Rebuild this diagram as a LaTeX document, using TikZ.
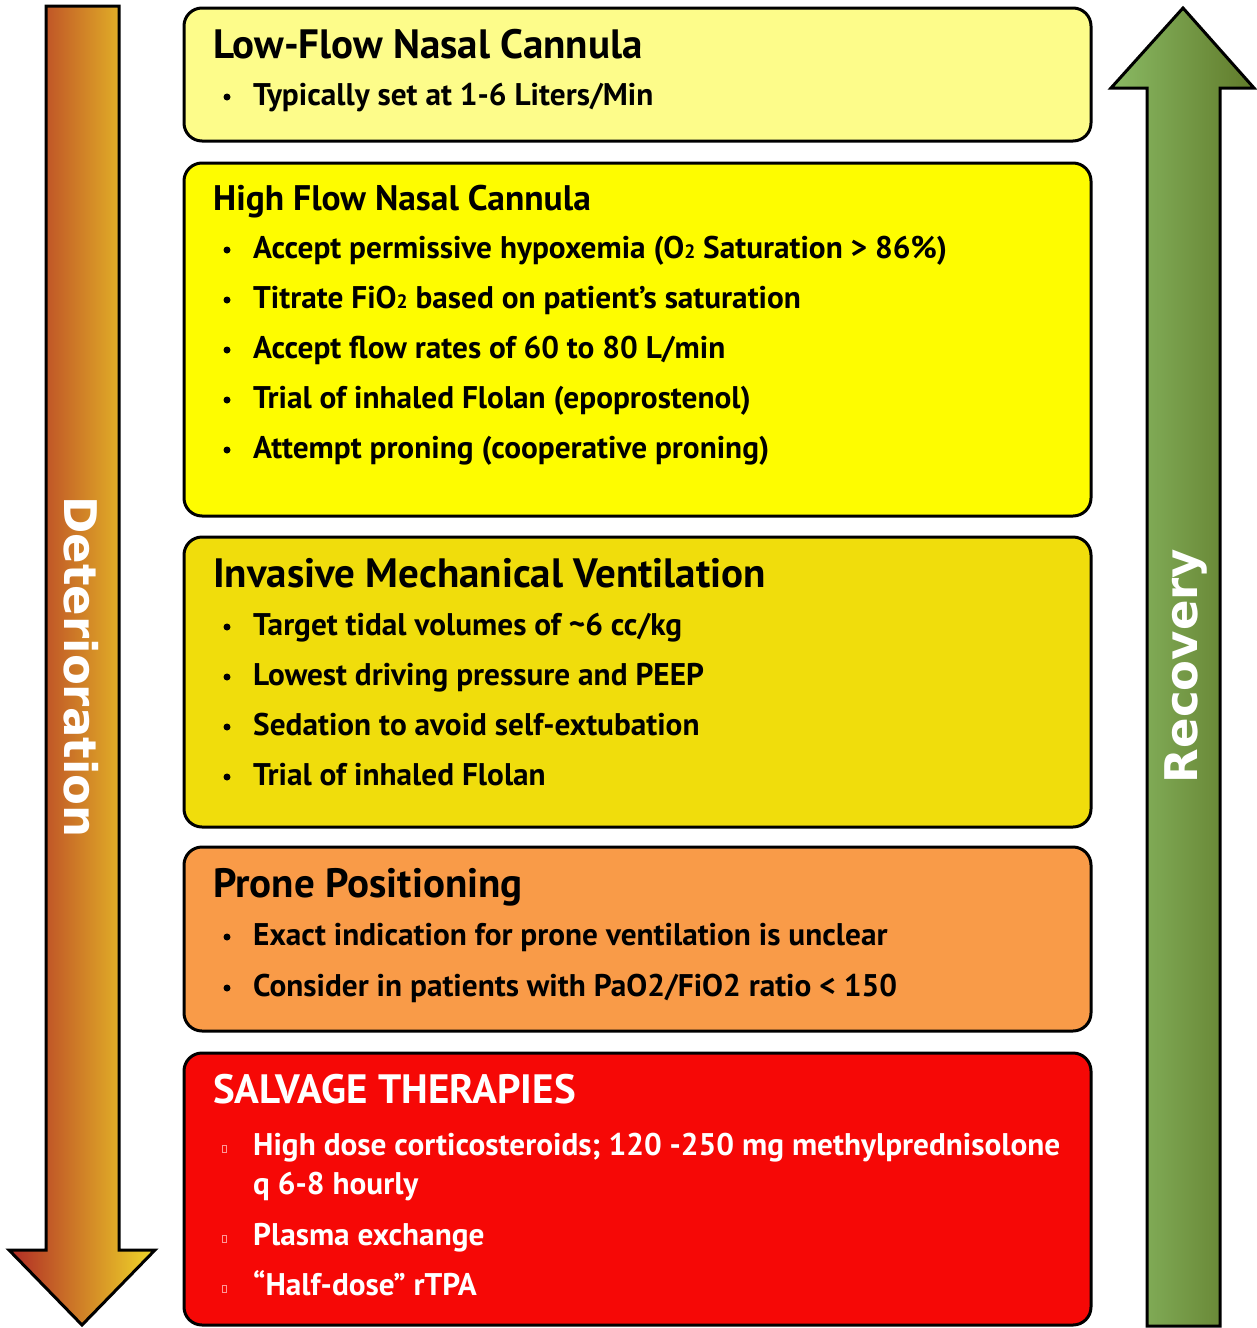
\documentclass[tikz,border=0pt]{standalone}
\usepackage{fontspec}
\setmainfont{PT Sans}
\newfontfamily\arrowlabelfont{DejaVu Sans}
\definecolor{boxA}{RGB}{253,252,138}
\definecolor{boxB}{RGB}{254,252,0}
\definecolor{boxC}{RGB}{240,221,12}
\definecolor{boxD}{RGB}{249,155,72}
\definecolor{boxE}{RGB}{246,8,6}
\definecolor{detL}{RGB}{176,42,38}
\definecolor{detR}{RGB}{240,216,40}
\definecolor{recL}{RGB}{138,186,100}
\definecolor{recR}{RGB}{96,122,42}
\definecolor{sqpink}{RGB}{255,150,150}
\newcommand{\subtwo}{\scalebox{0.62}{2}}
\begin{document}
\begin{tikzpicture}[x=1pt,y=-1pt,
  box/.style={draw=black,line width=3pt,rounded corners=18pt},
  ttl/.style={anchor=base west,inner sep=0pt,font=\fontsize{41}{43}\selectfont\bfseries},
  ttlsm/.style={anchor=base west,inner sep=0pt,font=\fontsize{35.5}{37}\selectfont\bfseries},
  itm/.style={anchor=base west,inner sep=0pt,font=\fontsize{31.3}{34}\selectfont\bfseries},
  bigarrow/.style={line width=3pt,draw=black,line join=miter},
  vlabel/.style={anchor=base,inner sep=0pt,text=white,font=\arrowlabelfont\fontsize{45}{45}\selectfont\bfseries}]
\useasboundingbox (0,0) rectangle (1256,1328);

% arrows
\shadedraw[bigarrow,left color=detL,right color=detR]
  (46,6) -- (119,6) -- (119,1250) -- (155,1250) -- (82,1325) -- (9,1250) -- (46,1250) -- cycle;
\shadedraw[bigarrow,left color=recL,right color=recR]
  (1147,1326) -- (1147,88) -- (1111,88) -- (1183,8) -- (1254,88) -- (1220,88) -- (1220,1326) -- cycle;
\node[vlabel,rotate=-90] (det) at (64,667) {Deterioration};
\node[vlabel,rotate=90] (rec) at (1197,666) {Recovery};

% boxes
\draw[box,fill=boxA] (184,8) rectangle (1091,141);
\draw[box,fill=boxB] (184,163) rectangle (1091,516);
\draw[box,fill=boxC] (184,537) rectangle (1091,827);
\draw[box,fill=boxD] (184,847) rectangle (1091,1031);
\draw[box,fill=boxE] (184,1053) rectangle (1091,1325);

% box 1
\node[ttl] (t1) at (213,58) {Low-Flow Nasal Cannula};
\fill (227,97) circle (3.5pt);
\node[itm] (i11) at (253,105) {Typically set at 1-6 Liters/Min};

% box 2
\node[ttlsm] (t2) at (213,210) {High Flow Nasal Cannula};
\foreach \b in {258,308,358,408,458} \fill (227,\b-8) circle (3.5pt);
\node[itm] (i21) at (253,258) {Accept permissive hypoxemia (O\subtwo{} Saturation \textgreater{} 86\%)};
\node[itm] (i22) at (253,308) {Titrate FiO\subtwo{} based on patient’s saturation};
\node[itm] (i23) at (253,358) {Accept flow rates of 60 to 80 L/min};
\node[itm] (i24) at (253,408) {Trial of inhaled Flolan (epoprostenol)};
\node[itm] (i25) at (253,458) {Attempt proning (cooperative proning)};

% box 3
\node[ttl] (t3) at (213,587) {Invasive Mechanical Ventilation};
\foreach \b in {635,685,735,785} \fill (227,\b-8) circle (3.5pt);
\node[itm] (i31) at (253,635) {Target tidal volumes of \textasciitilde6 cc/kg};
\node[itm] (i32) at (253,685) {Lowest driving pressure and PEEP};
\node[itm] (i33) at (253,735) {Sedation to avoid self-extubation};
\node[itm] (i34) at (253,785) {Trial of inhaled Flolan};

% box 4
\node[ttl] (t4) at (213,897) {Prone Positioning};
\foreach \b in {945,996} \fill (227,\b-8) circle (3.5pt);
\node[itm] (i41) at (253,945) {Exact indication for prone ventilation is unclear};
\node[itm] (i42) at (253,996) {Consider in patients with PaO2/FiO2 ratio \textless{} 150};

% box 5
\node[ttl,text=white] (t5) at (213,1103) {SALVAGE THERAPIES};
\foreach \b in {1155,1245,1295} \draw[sqpink,line width=0.8pt] (222,\b-10) rectangle (226,\b-3);
\node[itm,text=white] (i51) at (253,1155) {High dose corticosteroids; 120 -250 mg methylprednisolone};
\node[itm,text=white] (i52) at (253,1194) {q 6-8 hourly};
\node[itm,text=white] (i53) at (253,1245) {Plasma exchange};
\node[itm,text=white] (i54) at (253,1295) {“Half-dose” rTPA};
\end{tikzpicture}
\end{document}
